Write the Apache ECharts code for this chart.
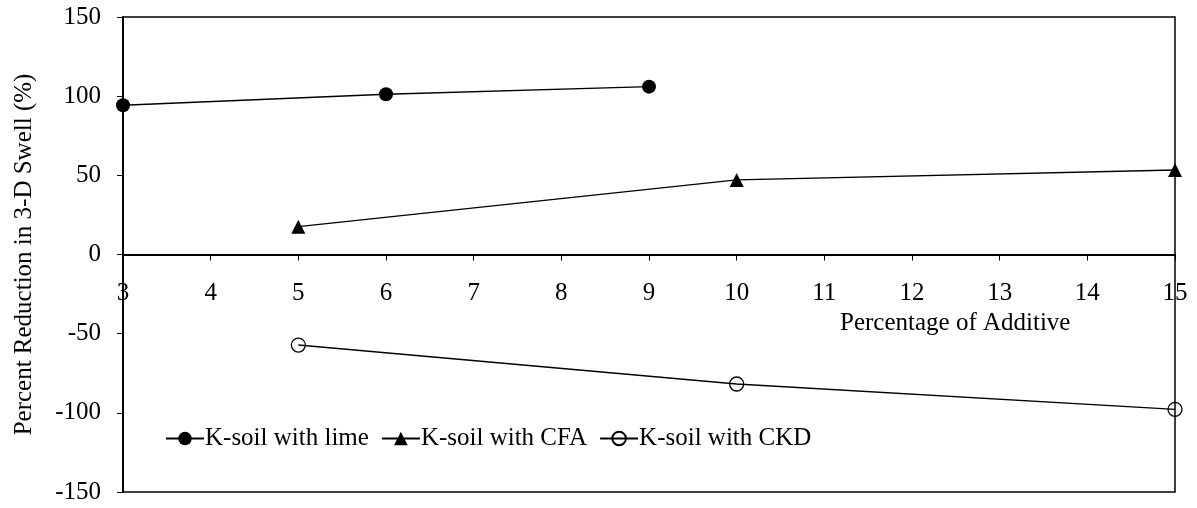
<!DOCTYPE html>
<html>
<head>
<meta charset="utf-8">
<script src="https://cdn.jsdelivr.net/npm/echarts@6/dist/echarts.min.js"></script>
<style>
html,body{margin:0;padding:0;background:#fff;}
#c{width:1197px;height:508px;}
</style>
</head>
<body>
<div id="c"></div>
<script>
const xLime = [3, 6, 9];
const yLime = [94.3, 101.2, 106];
const xCFA = [5, 10, 15];
const yCFA = [17.6, 47.1, 53.4];
const xCKD = [5, 10, 15];
const yCKD = [-57.2, -81.8, -97.8];
const names = ['K-soil with lime', 'K-soil with CFA', 'K-soil with CKD'];
const yTitle = 'Percent Reduction in 3-D Swell (%)';
const xTitle = 'Percentage of Additive';

const FONT = '"Liberation Serif", "Times New Roman", serif';
const pair = (xs, ys) => xs.map((x, i) => [x, ys[i]]);

const TOP = 17, BOTTOM = 16, H = 508;
const plotH = H - TOP - BOTTOM;
const zeroOffset = -plotH / 2; // y=0 is the middle of the range [-150,150]

const chart = echarts.init(document.getElementById('c'));
chart.setOption({
  animation: false,
  backgroundColor: '#fff',
  textStyle: { fontFamily: FONT },
  grid: { left: 123, right: 22, top: TOP, bottom: BOTTOM, containLabel: false, outerBoundsMode: 'none',
    show: true, borderColor: '#000', borderWidth: 1.5, backgroundColor: 'transparent' },
  xAxis: {
    type: 'value', min: 3, max: 15, interval: 1,
    position: 'bottom', offset: zeroOffset,
    axisLine: { show: true, onZero: false, lineStyle: { color: '#000', width: 2 } },
    axisTick: { show: true, inside: false, length: 6, lineStyle: { color: '#000' } },
    axisLabel: { color: '#000', fontSize: 25, fontFamily: FONT, margin: 26, showMinLabel: true, showMaxLabel: true },
    splitLine: { show: false }
  },
  yAxis: {
    type: 'value', min: -150, max: 150, interval: 50,
    name: yTitle, nameLocation: 'middle', nameGap: 86,
    nameTextStyle: { color: '#000', fontSize: 25, fontFamily: FONT },
    axisLine: { show: true, onZero: false, lineStyle: { color: '#000', width: 2 } },
    axisTick: { show: true, inside: false, length: 6, lineStyle: { color: '#000' } },
    axisLabel: { color: '#000', fontSize: 25, fontFamily: FONT, margin: 22 },
    splitLine: { show: false }
  },
  legend: {
    left: 160, top: 421,
    itemWidth: 38, itemHeight: 17, itemGap: 12,
    textStyle: { color: '#000', fontSize: 25, fontFamily: FONT, padding: [0, 0, 0, -4] },
    data: names
  },
  graphic: [{
    type: 'text', left: 840, top: 311,
    style: { text: xTitle, fill: '#000', font: '25px ' + FONT }
  }],
  series: [
    { name: names[0], type: 'line', data: pair(xLime, yLime), symbol: 'circle', symbolSize: 14,
      lineStyle: { color: '#000', width: 1.4 }, itemStyle: { color: '#000' } },
    { name: names[1], type: 'line', data: pair(xCFA, yCFA), symbol: 'triangle', symbolSize: 14,
      lineStyle: { color: '#000', width: 1.4 }, itemStyle: { color: '#000' } },
    { name: names[2], type: 'line', data: pair(xCKD, yCKD), symbol: 'circle', symbolSize: 14,
      lineStyle: { color: '#000', width: 1.4 }, itemStyle: { color: 'rgba(255,255,255,0)', borderColor: '#000', borderWidth: 1.3 } }
  ]
});
</script>
</body>
</html>
